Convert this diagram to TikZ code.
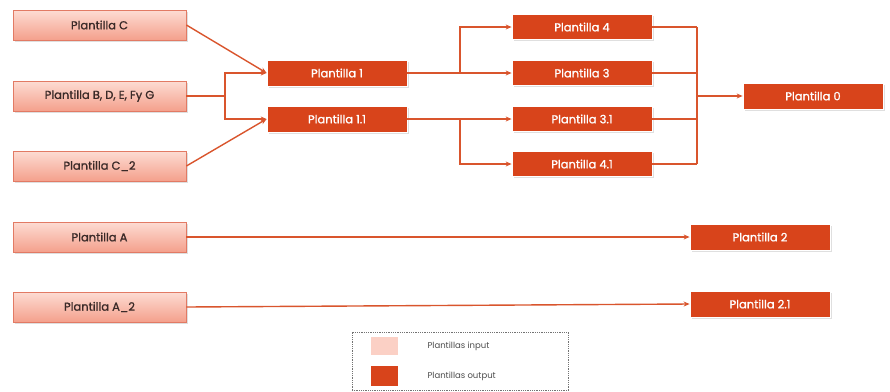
\documentclass[tikz,border=0pt]{standalone}
\usepackage{fontspec}
\setmainfont{Poppins}
\newfontfamily\boxfont{Poppins}[FakeBold=1.2]
\usetikzlibrary{shadows,arrows.meta}
\definecolor{outc}{HTML}{D8441B}
\definecolor{linec}{HTML}{D9552D}
\definecolor{inTop}{HTML}{FDDCD3}
\definecolor{inBot}{HTML}{F4A08C}
\definecolor{inDraw}{HTML}{E27A64}
\definecolor{txtc}{HTML}{3A2A28}
\begin{document}
\begin{tikzpicture}[x=1pt,y=-1pt,
  inbox/.style={rectangle, minimum width=173pt, minimum height=30pt, top color=inTop, bottom color=inBot, draw=inDraw, line width=0.8pt, font=\boxfont\fontsize{11.5}{12}\selectfont, text=txtc, drop shadow={opacity=0.25, shadow xshift=1.5pt, shadow yshift=-1.5pt}},
  outbox/.style={rectangle, minimum width=140pt, minimum height=26pt, fill=outc, draw=white, line width=0.8pt, font=\boxfont\fontsize{11.5}{12}\selectfont, text=white, drop shadow={opacity=0.25, shadow xshift=1.5pt, shadow yshift=-1.5pt}},
  conn/.style={draw=linec, line width=1.4pt},
  arr/.style={conn, -{Stealth[length=6pt,width=5pt]}},
  legtext/.style={font=\fontsize{8.5}{10}\selectfont, text=black!70, anchor=west}
]
\useasboundingbox (0,0) rectangle (890,391);
% input nodes
\node[inbox] (c) at (99.5,25) {Plantilla C};
\node[inbox] (b) at (99.5,96) {Plantilla B, D, E, Fy G};
\node[inbox] (c2) at (99.5,166) {Plantilla C\_2};
\node[inbox] (a) at (99.5,237) {Plantilla A};
\node[inbox] (a2) at (99.5,307) {Plantilla A\_2};
% output nodes
\node[outbox] (p1) at (337,73) {Plantilla 1};
\node[outbox] (p11) at (337,119) {Plantilla 1.1};
\node[outbox, minimum height=25pt] (p4) at (582,27) {Plantilla 4};
\node[outbox, minimum height=25pt] (p3) at (582,73) {Plantilla 3};
\node[outbox, minimum height=25pt] (p31) at (582,119) {Plantilla 3.1};
\node[outbox, minimum height=25pt] (p41) at (582,164) {Plantilla 4.1};
\node[outbox] (p0) at (813,96) {Plantilla 0};
\node[outbox] (p2) at (760,237) {Plantilla 2};
\node[outbox] (p21) at (760,304) {Plantilla 2.1};
% junctions
\coordinate (jl) at (225,96);
\coordinate (jm1) at (460,73);
\coordinate (jm2) at (460,119);
\coordinate (jr) at (697,96);
\coordinate (jrt) at (697,27);
\coordinate (jrb) at (697,164);
% connectors
\draw[arr] (c.east) -- (p1.west);
\draw[arr] (c2.east) -- (p11.west);
\draw[conn] (b.east) -- (jl);
\draw[arr] (jl) |- (p1.west);
\draw[arr] (jl) |- (p11.west);
\draw[arr] (p1.east) -- (p3.west);
\draw[arr] (jm1) |- (p4.west);
\draw[arr] (p11.east) -- (p31.west);
\draw[arr] (jm2) |- (p41.west);
\draw[conn] (p4.east) -- (jrt);
\draw[conn] (p3.east) -- (p3.east -| jr);
\draw[conn] (p31.east) -- (p31.east -| jr);
\draw[conn] (p41.east) -- (jrb);
\draw[conn] (jrt) -- (jrb);
\draw[arr] (jr) -- (p0.west);
\draw[arr] (a.east) -- (p2.west);
\draw[arr] (a2.east) -- (p21.west);
% legend
\node[draw=black!55, densely dotted, line width=0.8pt, minimum width=216pt, minimum height=58pt] (leg) at (460,361) {};
\node[fill=inTop!80!inBot, minimum width=27pt, minimum height=18pt, inner sep=0pt] (lin) at (384.5,346) {};
\node[fill=outc, minimum width=27pt, minimum height=20pt, inner sep=0pt] (lout) at (384.5,376) {};
\node[legtext] (tin) at (424,346) {Plantillas input};
\node[legtext] (tout) at (424,376) {Plantillas output};
\end{tikzpicture}
\end{document}
